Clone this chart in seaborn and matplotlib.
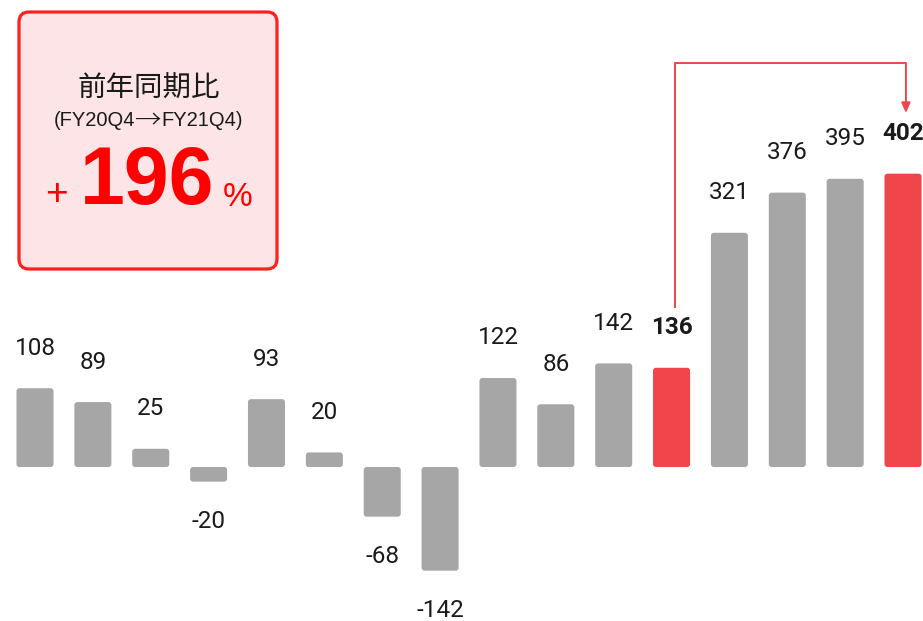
import matplotlib
matplotlib.use("Agg")
import matplotlib.pyplot as plt
from matplotlib.patches import FancyBboxPatch
import seaborn as sns
import pandas as pd

# Quarterly values (oldest -> newest)
quarters = [f"Q{i + 1}" for i in range(16)]
values = [108, 89, 25, -20, 93, 20, -68, -142, 122, 86, 142, 136, 321, 376, 395, 402]
highlight = [11, 15]          # FY20Q4 and FY21Q4
headline = "前年同期比"
period_from = "(FY20Q4"
period_arrow = "→"
period_to = "FY21Q4)"
growth = "196"

GRAY = "#a6a6a6"
RED = "#f0454a"
TEXT_RED = "#ff0000"

sns.set_theme(style="white")
plt.rcParams["font.family"] = ["Roboto", "DejaVu Sans"]

df = pd.DataFrame({"quarter": quarters, "value": values})
colors = [RED if i in highlight else GRAY for i in range(len(values))]

fig = plt.figure(figsize=(9.23, 6.21), dpi=100)
ax = fig.add_axes([0, 0, 1, 1])
sns.barplot(data=df, x="quarter", y="value", hue="quarter", palette=colors,
            width=0.64, legend=False, ax=ax, saturation=1)

ax.set_xlim(-0.605, 15.345)
ax.set_ylim(-211, 640)
ax.axis("off")

# swap plain rectangles for slightly rounded ones
px_x = 923 / (15.345 + 0.605)
px_y = 621 / (640 + 211)
aspect = px_x / px_y
for p in list(ax.patches):
    x, y = p.get_x(), p.get_y()
    w, h = p.get_width(), p.get_height()
    y0 = min(y, y + h)
    fb = FancyBboxPatch((x, y0), w, abs(h),
                        boxstyle=f"round,pad=0,rounding_size={3 / px_x}",
                        mutation_aspect=aspect,
                        facecolor=p.get_facecolor(), edgecolor="none")
    p.remove()
    ax.add_patch(fb)

# value labels
off = 40 / px_y
for i, v in enumerate(values):
    y = v + off if v >= 0 else v - off
    ax.text(i, y, f"{v}", ha="center", va="center", fontsize=17.5,
            color="#1a1a1a", fontweight="bold" if i in highlight else "normal")

# bracket arrow from FY20Q4 to FY21Q4
a, b = highlight
top = (467 - 63) / px_y
ax.plot([a + 0.06, a + 0.06, b + 0.05], [(467 - 308) / px_y, top, top],
        color=RED, lw=1.4, solid_capstyle="butt")
ax.annotate("", xy=(b + 0.05, (467 - 113) / px_y), xytext=(b + 0.05, top),
            arrowprops=dict(arrowstyle="-|>,head_length=0.5,head_width=0.22",
                            color=RED, lw=1.4, shrinkA=0, shrinkB=0))

# callout box in pixel coordinates
ov = fig.add_axes([0, 0, 1, 1], facecolor="none")
ov.set_xlim(0, 923)
ov.set_ylim(621, 0)
ov.axis("off")
ov.add_patch(FancyBboxPatch((19, 12), 258, 257,
                            boxstyle="round,pad=0,rounding_size=10",
                            facecolor="#fde4e6", edgecolor="#ff1f1f", lw=2.3))
ov.text(149, 89, headline, ha="center", va="center", fontsize=20.5,
        family=["Noto Sans CJK JP", "DejaVu Sans"], color="#1a1a1a")

# period line: three pieces laid out side by side around the centre
sans = ["Liberation Sans", "DejaVu Sans"]
t1 = ov.text(0, 121, period_from, ha="left", va="center", fontsize=14.5,
             family=sans, color="#1a1a1a")
t2 = ov.text(0, 120, period_arrow, ha="left", va="center", fontsize=19,
             family=["Noto Sans CJK JP", "DejaVu Sans"], fontweight="light",
             color="#1a1a1a")
t3 = ov.text(0, 121, period_to, ha="left", va="center", fontsize=14.5,
             family=sans, color="#1a1a1a")
renderer = fig.canvas.get_renderer()
widths = [t.get_window_extent(renderer).width for t in (t1, t2, t3)]
x = 148.5 - sum(widths) / 2
for t, w in zip((t1, t2, t3), widths):
    t.set_x(x)
    x += w

ov.text(147, 183, growth, ha="center", va="center", fontsize=58,
        family=["Liberation Sans"], fontweight="bold", color=TEXT_RED)
ov.text(56, 195, "+", ha="center", va="center", fontsize=28,
        family=["Liberation Sans"], color=TEXT_RED)
ov.text(238, 198, "%", ha="center", va="center", fontsize=24,
        family=["Liberation Sans"], color=TEXT_RED)

fig.savefig("out.png", dpi=100, facecolor="white")
